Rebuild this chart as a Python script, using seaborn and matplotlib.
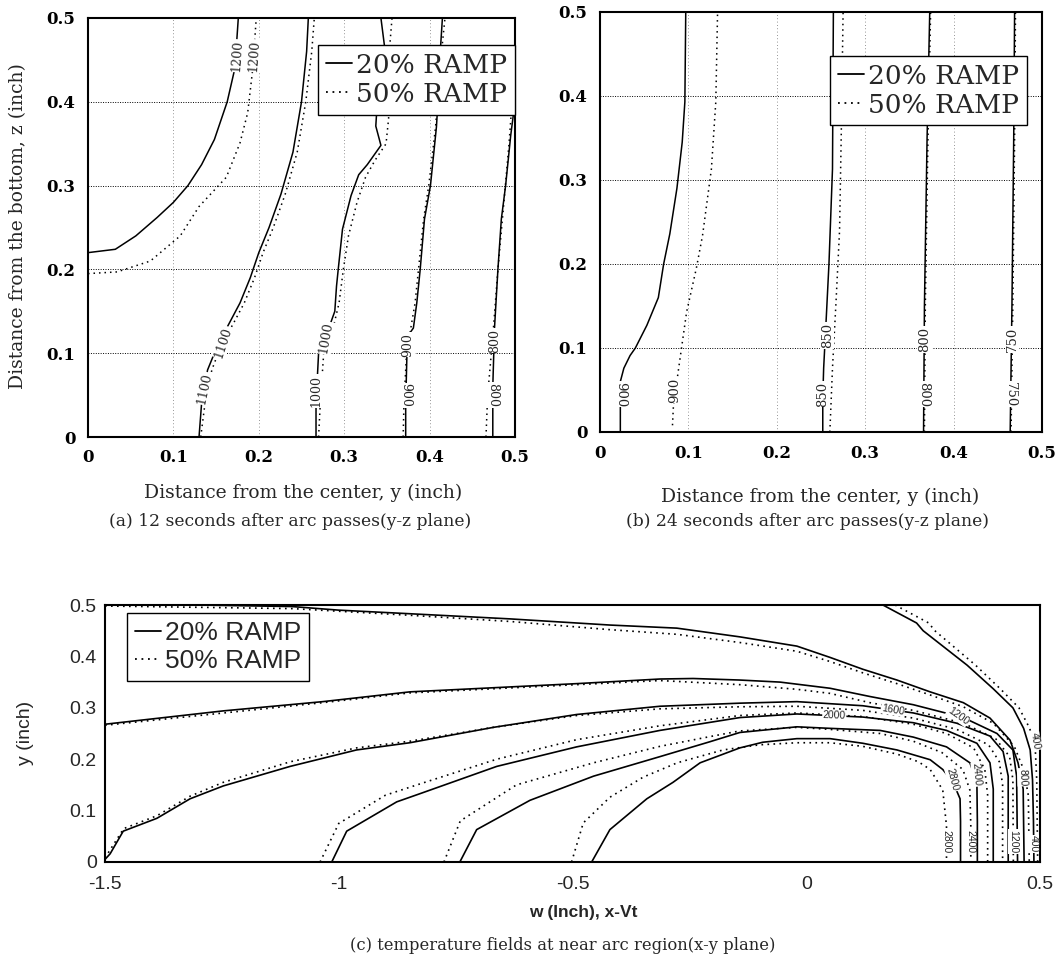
import matplotlib
matplotlib.use("Agg")
import matplotlib.pyplot as plt
from matplotlib.lines import Line2D
from matplotlib.ticker import MultipleLocator
import pandas as pd
import seaborn as sns

# ------------------------------------------------------------------ data
RAMPS = ["20% RAMP", "50% RAMP"]

# (a) 12 s after arc passes, y-z plane   (x = y distance, y = z distance)
A_LEVELS = ["1200", "1100", "1000", "900", "800"]
A_1200_S_X = [0.0, 0.032, 0.056, 0.081, 0.1, 0.117, 0.133, 0.148, 0.163, 0.172, 0.176]
A_1200_S_Y = [0.22, 0.224, 0.24, 0.262, 0.28, 0.30, 0.325, 0.355, 0.40, 0.44, 0.50]
A_1200_D_X = [0.0, 0.034, 0.073, 0.108, 0.13, 0.162, 0.178, 0.187, 0.193, 0.197]
A_1200_D_Y = [0.195, 0.197, 0.21, 0.24, 0.275, 0.31, 0.351, 0.387, 0.44, 0.50]
A_1100_S_X = [0.13, 0.133, 0.14, 0.152, 0.165, 0.178, 0.19, 0.2, 0.212, 0.226, 0.24, 0.25, 0.256, 0.258]
A_1100_S_Y = [0.0, 0.04, 0.08, 0.11, 0.135, 0.16, 0.19, 0.22, 0.25, 0.29, 0.34, 0.40, 0.46, 0.50]
A_1100_D_X = [0.132, 0.137, 0.145, 0.156, 0.17, 0.183, 0.195, 0.205, 0.217, 0.231, 0.245, 0.255, 0.262, 0.265]
A_1100_D_Y = [0.0, 0.04, 0.08, 0.11, 0.135, 0.16, 0.19, 0.22, 0.25, 0.29, 0.34, 0.40, 0.46, 0.50]
A_1000_S_X = [0.267, 0.267, 0.27, 0.282, 0.289, 0.291, 0.293, 0.298, 0.308, 0.317, 0.327, 0.343, 0.337, 0.34, 0.347, 0.343]
A_1000_S_Y = [0.0, 0.04, 0.10, 0.13, 0.15, 0.18, 0.20, 0.248, 0.288, 0.313, 0.325, 0.348, 0.371, 0.42, 0.468, 0.50]
A_1000_D_X = [0.27, 0.272, 0.276, 0.287, 0.294, 0.299, 0.305, 0.315, 0.325, 0.336, 0.349, 0.352, 0.352, 0.356]
A_1000_D_Y = [0.0, 0.04, 0.10, 0.13, 0.16, 0.20, 0.24, 0.28, 0.31, 0.33, 0.35, 0.38, 0.45, 0.50]
A_900_S_X = [0.372, 0.372, 0.374, 0.381, 0.385, 0.389, 0.394, 0.401, 0.408, 0.411, 0.413, 0.415]
A_900_S_Y = [0.0, 0.04, 0.12, 0.13, 0.16, 0.20, 0.26, 0.30, 0.37, 0.42, 0.468, 0.50]
A_900_D_X = [0.369, 0.37, 0.373, 0.378, 0.383, 0.387, 0.393, 0.399, 0.407, 0.413, 0.418]
A_900_D_Y = [0.0, 0.04, 0.10, 0.13, 0.16, 0.20, 0.26, 0.30, 0.37, 0.45, 0.50]
A_800_S_X = [0.474, 0.474, 0.476, 0.48, 0.484, 0.489, 0.495, 0.50]
A_800_S_Y = [0.0, 0.06, 0.13, 0.20, 0.26, 0.30, 0.36, 0.40]
A_800_D_X = [0.466, 0.468, 0.474, 0.48, 0.487, 0.493, 0.498, 0.50]
A_800_D_Y = [0.0, 0.05, 0.12, 0.20, 0.28, 0.35, 0.42, 0.47]

# (b) 24 s after arc passes, y-z plane
B_LEVELS = ["900", "850", "800", "750"]
B_900_S_X = [0.023, 0.023, 0.027, 0.034, 0.04, 0.053, 0.066, 0.072, 0.079, 0.087, 0.093, 0.096, 0.097]
B_900_S_Y = [0.0, 0.06, 0.076, 0.091, 0.10, 0.127, 0.16, 0.20, 0.236, 0.29, 0.345, 0.393, 0.50]
B_900_D_X = [0.082, 0.083, 0.089, 0.098, 0.109, 0.116, 0.126, 0.131, 0.133]
B_900_D_Y = [0.008, 0.03, 0.076, 0.143, 0.195, 0.234, 0.313, 0.393, 0.50]
B_850_S_X = [0.252, 0.252, 0.253, 0.256, 0.259, 0.263, 0.264]
B_850_S_Y = [0.0, 0.04, 0.076, 0.137, 0.20, 0.313, 0.50]
B_850_D_X = [0.26, 0.263, 0.267, 0.271, 0.273, 0.275]
B_850_D_Y = [0.0, 0.076, 0.155, 0.24, 0.36, 0.50]
B_800_S_X = [0.366, 0.367, 0.37, 0.373]
B_800_S_Y = [0.0, 0.15, 0.35, 0.50]
B_800_D_X = [0.367, 0.368, 0.371, 0.374]
B_800_D_Y = [0.0, 0.15, 0.35, 0.50]
B_750_S_X = [0.464, 0.466, 0.468, 0.469]
B_750_S_Y = [0.0, 0.15, 0.35, 0.50]
B_750_D_X = [0.465, 0.467, 0.469, 0.47]
B_750_D_Y = [0.0, 0.15, 0.35, 0.50]

# (c) temperature fields near the arc, x-y plane (w = x - Vt)
C_LEVELS = ["400", "800", "1200", "1600", "2000", "2400", "2800"]
C_400_S_W = [0.164, 0.236, 0.25, 0.344, 0.40, 0.442, 0.465, 0.479, 0.484, 0.486, 0.487]
C_400_S_Y = [0.50, 0.465, 0.45, 0.383, 0.337, 0.30, 0.26, 0.218, 0.16, 0.08, 0.0]
C_400_D_W = [0.19, 0.262, 0.275, 0.362, 0.415, 0.455, 0.478, 0.49, 0.493, 0.494, 0.495]
C_400_D_Y = [0.50, 0.465, 0.45, 0.383, 0.337, 0.30, 0.26, 0.218, 0.16, 0.08, 0.0]
C_800_S_W = [-1.5, -1.3, -1.1, -1.0, -0.848, -0.634, -0.42, -0.277, -0.142, -0.02, 0.051, 0.121, 0.194,
             0.265, 0.336, 0.393, 0.436, 0.453, 0.464, 0.466]
C_800_S_Y = [0.50, 0.50, 0.497, 0.49, 0.483, 0.473, 0.461, 0.455, 0.438, 0.42, 0.398, 0.375, 0.354,
             0.331, 0.31, 0.28, 0.237, 0.193, 0.142, 0.0]
C_800_D_W = [-1.5, -1.1, -0.848, -0.634, -0.42, -0.277, -0.142, -0.02, 0.051, 0.121, 0.194, 0.265,
             0.336, 0.40, 0.445, 0.465, 0.475, 0.477]
C_800_D_Y = [0.498, 0.493, 0.48, 0.468, 0.452, 0.443, 0.427, 0.41, 0.39, 0.368, 0.347, 0.325,
             0.302, 0.27, 0.225, 0.18, 0.13, 0.0]
C_1200_S_W = [-1.5, -1.247, -1.034, -0.848, -0.491, -0.313, -0.242, -0.142, -0.056, 0.051, 0.136, 0.229,
              0.336, 0.408, 0.442, 0.45, 0.452]
C_1200_S_Y = [0.268, 0.294, 0.312, 0.331, 0.347, 0.356, 0.357, 0.354, 0.35, 0.338, 0.322, 0.306,
              0.281, 0.25, 0.218, 0.167, 0.0]
C_1200_D_W = [-1.5, -1.034, -0.848, -0.491, -0.313, -0.142, -0.02, 0.051, 0.136, 0.229, 0.336, 0.405,
              0.435, 0.442, 0.443]
C_1200_D_Y = [0.266, 0.31, 0.329, 0.345, 0.353, 0.345, 0.336, 0.328, 0.31, 0.295, 0.27, 0.24,
              0.205, 0.16, 0.0]
C_1600_S_W = [-1.5, -1.489, -1.461, -1.389, -1.318, -1.247, -1.104, -0.962, -0.848, -0.669, -0.491, -0.313,
              -0.142, -0.02, 0.121, 0.229, 0.322, 0.393, 0.421, 0.432, 0.432]
C_1600_S_Y = [0.005, 0.016, 0.06, 0.085, 0.123, 0.148, 0.186, 0.218, 0.232, 0.262, 0.287, 0.303,
              0.309, 0.312, 0.304, 0.29, 0.27, 0.245, 0.215, 0.167, 0.0]
C_1600_D_W = [-1.5, -1.46, -1.389, -1.318, -1.247, -1.104, -0.962, -0.848, -0.669, -0.491, -0.313, -0.142,
              -0.02, 0.121, 0.229, 0.322, 0.39, 0.413, 0.42, 0.42]
C_1600_D_Y = [0.008, 0.065, 0.09, 0.128, 0.155, 0.195, 0.222, 0.235, 0.262, 0.285, 0.298, 0.302,
              0.303, 0.295, 0.28, 0.258, 0.228, 0.195, 0.15, 0.0]
C_2000_S_W = [-1.015, -0.983, -0.876, -0.826, -0.662, -0.491, -0.313, -0.142, -0.02, 0.121, 0.229, 0.30,
              0.365, 0.393, 0.40, 0.40]
C_2000_S_Y = [0.0, 0.06, 0.117, 0.133, 0.186, 0.224, 0.256, 0.281, 0.288, 0.282, 0.271, 0.256,
              0.231, 0.193, 0.142, 0.0]
C_2000_D_W = [-1.04, -1.0, -0.9, -0.826, -0.662, -0.491, -0.313, -0.142, -0.02, 0.121, 0.229, 0.30,
              0.358, 0.382, 0.388, 0.388]
C_2000_D_Y = [0.0, 0.075, 0.13, 0.152, 0.2, 0.238, 0.265, 0.285, 0.29, 0.283, 0.268, 0.25,
              0.222, 0.18, 0.13, 0.0]
C_2400_S_W = [-0.741, -0.705, -0.591, -0.455, -0.313, -0.206, -0.142, -0.02, 0.051, 0.158, 0.229, 0.30,
              0.35, 0.365, 0.366, 0.366]
C_2400_S_Y = [0.0, 0.063, 0.12, 0.167, 0.205, 0.234, 0.252, 0.263, 0.26, 0.256, 0.243, 0.224,
              0.193, 0.155, 0.079, 0.0]
C_2400_D_W = [-0.775, -0.74, -0.62, -0.455, -0.313, -0.2, -0.142, -0.02, 0.051, 0.158, 0.229, 0.29,
              0.335, 0.35, 0.352, 0.352]
C_2400_D_Y = [0.0, 0.08, 0.15, 0.193, 0.225, 0.245, 0.255, 0.262, 0.258, 0.25, 0.235, 0.213,
              0.18, 0.14, 0.07, 0.0]
C_2800_S_W = [-0.459, -0.42, -0.341, -0.285, -0.227, -0.142, -0.093, -0.02, 0.051, 0.121, 0.194, 0.265,
              0.292, 0.314, 0.329, 0.33, 0.33]
C_2800_S_Y = [0.0, 0.063, 0.123, 0.155, 0.193, 0.222, 0.233, 0.24, 0.24, 0.231, 0.218, 0.199,
              0.18, 0.155, 0.123, 0.079, 0.0]
C_2800_D_W = [-0.502, -0.477, -0.42, -0.349, -0.276, -0.178, -0.1, -0.02, 0.051, 0.121, 0.194, 0.24,
              0.265, 0.292, 0.30, 0.30]
C_2800_D_Y = [0.0, 0.076, 0.126, 0.165, 0.193, 0.218, 0.228, 0.232, 0.232, 0.225, 0.21, 0.195,
              0.18, 0.14, 0.07, 0.0]

A_TICKS = [0, 0.1, 0.2, 0.3, 0.4, 0.5]
A_TICKLABELS = ["0", "0.1", "0.2", "0.3", "0.4", "0.5"]
C_XTICKS = [-1.5, -1, -0.5, 0, 0.5]
C_XTICKLABELS = ["-1.5", "-1", "-0.5", "0", "0.5"]

# ------------------------------------------------------------------ helpers
def build(contours):
    rows = []
    for cid, (level, ramp, xs, ys) in enumerate(contours):
        for k, (x, y) in enumerate(zip(xs, ys)):
            rows.append({"cid": cid, "level": level, "ramp": ramp, "order": k, "x": x, "y": y})
    return pd.DataFrame(rows)


A_DF = build([
    ("1200", RAMPS[0], A_1200_S_X, A_1200_S_Y), ("1200", RAMPS[1], A_1200_D_X, A_1200_D_Y),
    ("1100", RAMPS[0], A_1100_S_X, A_1100_S_Y), ("1100", RAMPS[1], A_1100_D_X, A_1100_D_Y),
    ("1000", RAMPS[0], A_1000_S_X, A_1000_S_Y), ("1000", RAMPS[1], A_1000_D_X, A_1000_D_Y),
    ("900", RAMPS[0], A_900_S_X, A_900_S_Y), ("900", RAMPS[1], A_900_D_X, A_900_D_Y),
    ("800", RAMPS[0], A_800_S_X, A_800_S_Y), ("800", RAMPS[1], A_800_D_X, A_800_D_Y),
])
B_DF = build([
    ("900", RAMPS[0], B_900_S_X, B_900_S_Y), ("900", RAMPS[1], B_900_D_X, B_900_D_Y),
    ("850", RAMPS[0], B_850_S_X, B_850_S_Y), ("850", RAMPS[1], B_850_D_X, B_850_D_Y),
    ("800", RAMPS[0], B_800_S_X, B_800_S_Y), ("800", RAMPS[1], B_800_D_X, B_800_D_Y),
    ("750", RAMPS[0], B_750_S_X, B_750_S_Y), ("750", RAMPS[1], B_750_D_X, B_750_D_Y),
])
C_DF = build([
    ("400", RAMPS[0], C_400_S_W, C_400_S_Y), ("400", RAMPS[1], C_400_D_W, C_400_D_Y),
    ("800", RAMPS[0], C_800_S_W, C_800_S_Y), ("800", RAMPS[1], C_800_D_W, C_800_D_Y),
    ("1200", RAMPS[0], C_1200_S_W, C_1200_S_Y), ("1200", RAMPS[1], C_1200_D_W, C_1200_D_Y),
    ("1600", RAMPS[0], C_1600_S_W, C_1600_S_Y), ("1600", RAMPS[1], C_1600_D_W, C_1600_D_Y),
    ("2000", RAMPS[0], C_2000_S_W, C_2000_S_Y), ("2000", RAMPS[1], C_2000_D_W, C_2000_D_Y),
    ("2400", RAMPS[0], C_2400_S_W, C_2400_S_Y), ("2400", RAMPS[1], C_2400_D_W, C_2400_D_Y),
    ("2800", RAMPS[0], C_2800_S_W, C_2800_S_Y), ("2800", RAMPS[1], C_2800_D_W, C_2800_D_Y),
])

# ------------------------------------------------------------------ style
sns.set_theme(style="white")
plt.rcParams["font.family"] = ["DejaVu Serif", "DejaVu Sans"]
SERIF = "DejaVu Serif"
SANS = "Liberation Sans"
W, H = 1062, 966

fig = plt.figure(figsize=(W / 100, H / 100), dpi=100)


def axes_px(l, t, r, b):
    return fig.add_axes([l / W, 1 - b / H, (r - l) / W, (b - t) / H])


def ftext(x, y, s, **kw):
    fig.text(x / W, 1 - y / H, s, ha="center", va="center", **kw)


DASHES = {RAMPS[0]: "", RAMPS[1]: (1, 2.6)}


def draw(ax, df, lw=1.1):
    sns.lineplot(data=df, x="x", y="y", units="cid", style="ramp", dashes=DASHES,
                 estimator=None, sort=False, color="black", linewidth=lw,
                 legend=False, ax=ax, zorder=2)


def legend(ax, family, size, **kw):
    handles = [Line2D([0], [0], color="black", lw=1.3),
                Line2D([0], [0], color="black", lw=1.3, linestyle=(0, (1, 2.6)))]
    leg = ax.legend(handles, RAMPS, prop={"family": family, "size": size},
                    frameon=True, fancybox=False, framealpha=1, edgecolor="black",
                    handlelength=1.0, handletextpad=0.15, borderpad=0.3,
                    labelspacing=0.15, borderaxespad=0, **kw)
    leg.get_frame().set_linewidth(1.0)
    leg.set_zorder(5)


def clabel(ax, s, x, y, rot, family, size):
    ax.text(x, y, s, rotation=rot, ha="center", va="center", family=family, fontsize=size,
            zorder=3, bbox=dict(boxstyle="square,pad=0.05", fc="white", ec="none"))


def yz_panel(ax, df):
    draw(ax, df)
    ax.set_xlim(0, 0.5)
    ax.set_ylim(0, 0.5)
    ax.set_xticks(A_TICKS, A_TICKLABELS, family=SERIF, fontsize=12, fontweight="bold")
    ax.set_yticks(A_TICKS, A_TICKLABELS, family=SERIF, fontsize=12, fontweight="bold")
    ax.yaxis.set_minor_locator(MultipleLocator(0.05))
    ax.tick_params(which="major", direction="in", length=5, width=1, pad=9, colors="black")
    ax.tick_params(which="minor", direction="in", length=3, width=0.8)
    ax.yaxis.grid(True, which="major", linestyle=(0, (1, 1.5)), color="black", linewidth=0.7)
    ax.xaxis.grid(True, which="major", linestyle=(0, (1, 3)), color="0.45", linewidth=0.6)
    ax.set_xlabel("")
    ax.set_ylabel("")
    for sp in ax.spines.values():
        sp.set_visible(True)
        sp.set_color("black")
        sp.set_linewidth(1.5)


# ------------------------------------------------------------------ panel (a)
axA = axes_px(88, 18, 515, 437)
yz_panel(axA, A_DF)
legend(axA, SERIF, 19, loc="upper right", bbox_to_anchor=(1.0, 0.936))
for s, x, y, r in [("1200", 0.174, 0.455, 86), ("1200", 0.195, 0.455, 86),
                   ("1100", 0.136, 0.058, 78), ("1100", 0.158, 0.113, 72),
                   ("1000", 0.267, 0.055, 90), ("1000", 0.279, 0.118, 80),
                   ("900", 0.372, 0.05, -90), ("900", 0.375, 0.11, 90),
                   ("800", 0.474, 0.05, -90), ("800", 0.476, 0.115, 90)]:
    clabel(axA, s, x, y, r, SERIF, 9)

# ------------------------------------------------------------------ panel (b)
axB = axes_px(600, 12, 1042, 432)
yz_panel(axB, B_DF)
legend(axB, SERIF, 19, loc="upper right", bbox_to_anchor=(0.966, 0.896))
for s, x, y, r in [("900", 0.023, 0.045, -90), ("900", 0.084, 0.05, 90),
                   ("850", 0.252, 0.045, 90), ("850", 0.257, 0.115, 90),
                   ("800", 0.366, 0.045, -90), ("800", 0.367, 0.11, 90),
                   ("750", 0.464, 0.045, -90), ("750", 0.466, 0.11, 90)]:
    clabel(axB, s, x, y, r, SERIF, 9.5)

# ------------------------------------------------------------------ panel (c)
axC = axes_px(105, 605, 1040, 862)
draw(axC, C_DF, lw=1.2)
axC.set_xlim(-1.5, 0.5)
axC.set_ylim(0, 0.5)
axC.set_xticks(C_XTICKS, C_XTICKLABELS, family=SANS, fontsize=14)
axC.set_yticks(A_TICKS, A_TICKLABELS, family=SANS, fontsize=14)
axC.tick_params(axis="y", direction="in", length=11, width=1.2, pad=6)
axC.tick_params(axis="x", direction="in", length=4, width=1, pad=10)
axC.set_xlabel("")
axC.set_ylabel("")
for sp in axC.spines.values():
    sp.set_visible(True)
    sp.set_color("black")
    sp.set_linewidth(1.5)
legend(axC, SANS, 19, loc="upper left", bbox_to_anchor=(0.0235, 0.969))
for s, x, y, r in [("2000", 0.06, 0.285, -2), ("1600", 0.185, 0.296, -10),
                   ("1200", 0.325, 0.284, -35), ("2800", 0.313, 0.16, -75),
                   ("2400", 0.365, 0.17, -85), ("800", 0.463, 0.165, -88),
                   ("400", 0.49, 0.235, -80), ("2800", 0.30, 0.04, -90),
                   ("2400", 0.352, 0.04, -90), ("1200", 0.443, 0.04, -90),
                   ("400", 0.487, 0.035, -90)]:
    clabel(axC, s, x, y, r, SANS, 7.5)

# ------------------------------------------------------------------ labels & captions
ftext(18, 226, "Distance from the bottom, z (inch)", rotation=90, family=SERIF, fontsize=13.5)
ftext(303, 493, "Distance from the center, y (inch)", family=SERIF, fontsize=13.5)
ftext(820, 497, "Distance from the center, y (inch)", family=SERIF, fontsize=13.5)
ftext(290, 521, "(a) 12 seconds after arc passes(y-z plane)", family=SERIF, fontsize=12.3)
ftext(808, 521, "(b) 24 seconds after arc passes(y-z plane)", family=SERIF, fontsize=12.3)
ftext(25, 733, "y (inch)", rotation=90, family=SANS, fontsize=14)
ftext(583, 912, "w (Inch), x-Vt", family=SANS, fontsize=12.5, fontweight="bold")
ftext(563, 945, "(c) temperature fields at near arc region(x-y plane)", family=SERIF, fontsize=11.8)

fig.savefig("out.png", dpi=100)
